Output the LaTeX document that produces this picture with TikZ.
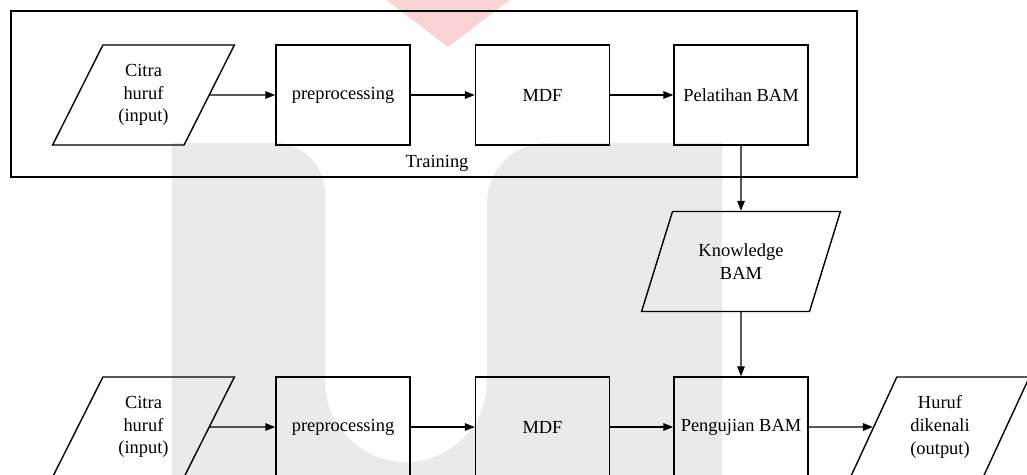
\documentclass[tikz,border=0pt]{standalone}
\usepackage{fontspec}
\setmainfont{Liberation Serif}
\usetikzlibrary{shapes.geometric}
\usetikzlibrary{arrows.meta}
\definecolor{wmgray}{HTML}{EAEAEA}
\definecolor{wmpink}{HTML}{F9D2D5}

\begin{document}
\begin{tikzpicture}[x=0.02cm,y=-0.02cm,line width=0.8pt,
    font=\fontsize{10.5}{13}\selectfont,
    proses/.style={draw,rectangle,minimum width=2.68cm,minimum height=2cm,align=center,inner sep=2pt},
    dataio/.style={draw,trapezium,trapezium left angle=63,trapezium right angle=117,
        trapezium stretches=true,minimum width=3.64cm,minimum height=2cm,align=center,inner sep=1pt},
    panah/.style={-{Triangle[length=0.2cm,width=0.15cm]}}]
        \clip (0,0) rectangle (1027,475);
        % watermark
        \fill[wmpink] (380,-5) -- (516,-5) -- (448,47) -- cycle;
        \fill[wmgray] (172,520) -- (172,143) -- (275,143) arc[start angle=-90,end angle=0,radius=50]
            -- (325,381) arc[start angle=180,end angle=0,radius=81]
            -- (487,203) arc[start angle=180,end angle=270,radius=60]
            -- (722,143) -- (722,520) -- cycle;
        % training
        \node[draw,minimum width=16.92cm,minimum height=3.32cm] (training) at (434,94) {};
        \node (lbltrain) at (437,163) {Training};
        \node[dataio] (in1) at (143.5,95) {Citra\\huruf\\(input)};
        \node[proses] (pre1) at (343,95) {preprocessing};
        \node[proses] (mdf1) at (542.5,95) {MDF};
        \node[proses] (bam1) at (741,95) {Pelatihan BAM};
        \node[dataio,minimum width=4cm] (know) at (741,261.5) {Knowledge\\BAM};
        % testing
        \node[dataio] (in2) at (143.5,427) {Citra\\huruf\\(input)};
        \node[proses] (pre2) at (343,427) {preprocessing};
        \node[proses] (mdf2) at (542.5,427) {MDF};
        \node[proses] (bam2) at (741,427) {Pengujian BAM};
        \node[dataio,minimum width=3.6cm] (out) at (940,427) {Huruf\\dikenali\\(output)};
        \draw[panah] (in1) -- (pre1);
        \draw[panah] (pre1) -- (mdf1);
        \draw[panah] (mdf1) -- (bam1);
        \draw[panah] (bam1) -- (know);
        \draw[panah] (know) -- (bam2);
        \draw[panah] (in2) -- (pre2);
        \draw[panah] (pre2) -- (mdf2);
        \draw[panah] (mdf2) -- (bam2);
        \draw[panah] (bam2) -- (out);
    \end{tikzpicture}
\end{document}
